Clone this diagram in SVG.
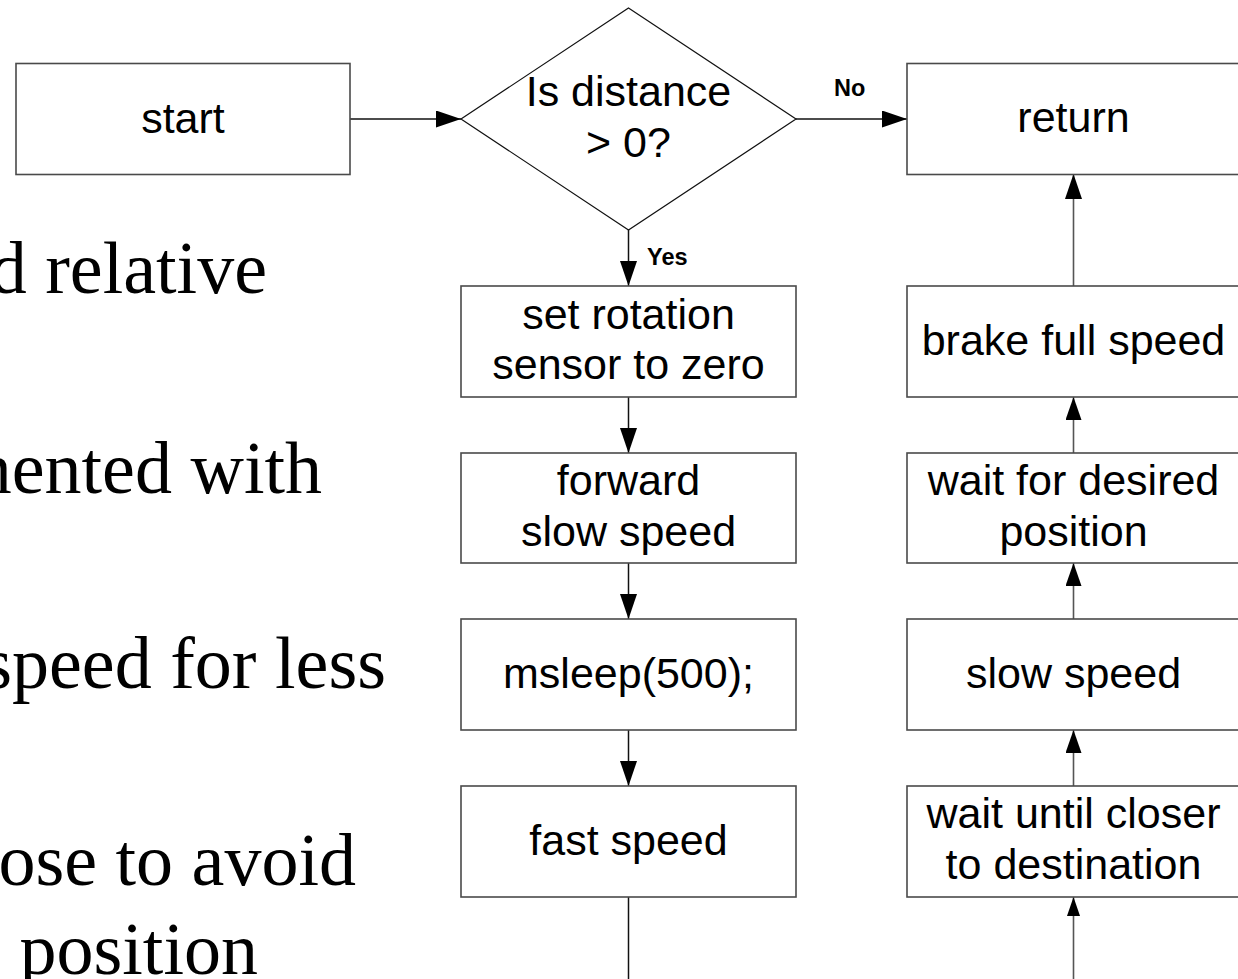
<svg xmlns="http://www.w3.org/2000/svg" width="1238" height="979" viewBox="0 0 1238 979">
  <style>
    .box { fill: #fff; stroke: #4a4a4a; stroke-width: 1.6; }
    .dia { fill: #fff; stroke: #111; stroke-width: 1.2; }
    .lbl { font-family: "Liberation Sans", Arial, sans-serif; font-size: 43px; fill: #000; text-anchor: middle; }
    .tag { font-family: "Liberation Sans", Arial, sans-serif; font-size: 23.5px; font-weight: bold; fill: #000; }
    .bullet { font-family: "Liberation Serif", "Times New Roman", serif; font-size: 74px; fill: #000; text-anchor: end; }
    .wire { fill: none; stroke: #111; stroke-width: 1.5; }
    .wire-r { fill: none; stroke: #555; stroke-width: 1.6; }
  </style>
  <defs>
    <marker id="arrow" markerUnits="userSpaceOnUse" markerWidth="25" markerHeight="17" refX="25" refY="8.5" orient="auto">
      <path d="M0,0 L25,8.5 L0,17 Z" fill="#000"/>
    </marker>
    <marker id="arrow-m" markerUnits="userSpaceOnUse" markerWidth="23" markerHeight="16" refX="23" refY="8" orient="auto">
      <path d="M0,0 L23,8 L0,16 Z" fill="#000"/>
    </marker>
    <marker id="arrow-s" markerUnits="userSpaceOnUse" markerWidth="19" markerHeight="13" refX="19" refY="6.5" orient="auto">
      <path d="M0,0 L19,6.5 L0,13 Z" fill="#000"/>
    </marker>
  </defs>

  <rect width="1238" height="979" fill="#fff"/>

  <!-- bullet text running off the left edge of the slide -->
  <g id="slide-text">
    <text class="bullet" x="267" y="293">d relative</text>
    <text class="bullet" x="322" y="493">nented with</text>
    <text class="bullet" x="386" y="688">speed for less</text>
    <text class="bullet" x="356" y="885">ose to avoid</text>
    <text class="bullet" x="258" y="974">position</text>
  </g>

  <!-- connectors -->
  <g id="connectors">
    <line class="wire" x1="350" y1="119" x2="461" y2="119" marker-end="url(#arrow)"/>
    <line class="wire" x1="796" y1="119" x2="907" y2="119" marker-end="url(#arrow)"/>
    <line class="wire" x1="628.5" y1="230" x2="628.5" y2="286" marker-end="url(#arrow)"/>
    <line class="wire" x1="628.5" y1="397" x2="628.5" y2="453" marker-end="url(#arrow)"/>
    <line class="wire" x1="628.5" y1="563" x2="628.5" y2="619" marker-end="url(#arrow)"/>
    <line class="wire" x1="628.5" y1="730" x2="628.5" y2="786" marker-end="url(#arrow)"/>
    <line class="wire" x1="628.5" y1="897" x2="628.5" y2="990"/>
    <line class="wire-r" x1="1073.5" y1="990" x2="1073.5" y2="897" marker-end="url(#arrow-s)"/>
    <line class="wire-r" x1="1073.5" y1="786" x2="1073.5" y2="730" marker-end="url(#arrow-m)"/>
    <line class="wire-r" x1="1073.5" y1="619" x2="1073.5" y2="563" marker-end="url(#arrow-m)"/>
    <line class="wire-r" x1="1073.5" y1="453" x2="1073.5" y2="397" marker-end="url(#arrow-m)"/>
    <line class="wire-r" x1="1073.5" y1="286" x2="1073.5" y2="174" marker-end="url(#arrow)"/>
    <text class="tag" x="834" y="96">No</text>
    <text class="tag" x="647" y="265">Yes</text>
  </g>

  <g id="start">
    <rect class="box" x="16" y="63.5" width="334" height="111"/>
    <text class="lbl" x="183" y="133">start</text>
  </g>

  <g id="check-distance">
    <polygon class="dia" points="628.5,8 796,119 628.5,230 461,119"/>
    <text class="lbl" x="628.5" y="106">Is distance</text>
    <text class="lbl" x="628.5" y="157">&gt; 0?</text>
  </g>

  <g id="return">
    <rect class="box" x="907" y="63.5" width="334" height="111"/>
    <text class="lbl" x="1073.5" y="132">return</text>
  </g>

  <g id="reset-sensor">
    <rect class="box" x="461" y="286" width="335" height="111"/>
    <text class="lbl" x="628.5" y="329">set rotation</text>
    <text class="lbl" x="628.5" y="379">sensor to zero</text>
  </g>

  <g id="forward-slow">
    <rect class="box" x="461" y="453" width="335" height="110"/>
    <text class="lbl" x="628.5" y="495">forward</text>
    <text class="lbl" x="628.5" y="546">slow speed</text>
  </g>

  <g id="msleep">
    <rect class="box" x="461" y="619" width="335" height="111"/>
    <text class="lbl" x="628.5" y="688">msleep(500);</text>
  </g>

  <g id="fast-speed">
    <rect class="box" x="461" y="786" width="335" height="111"/>
    <text class="lbl" x="628.5" y="855">fast speed</text>
  </g>

  <g id="brake">
    <rect class="box" x="907" y="286" width="334" height="111"/>
    <text class="lbl" x="1073.5" y="355">brake full speed</text>
  </g>

  <g id="wait-position">
    <rect class="box" x="907" y="453" width="334" height="110"/>
    <text class="lbl" x="1073.5" y="495">wait for desired</text>
    <text class="lbl" x="1073.5" y="546">position</text>
  </g>

  <g id="slow-speed">
    <rect class="box" x="907" y="619" width="334" height="111"/>
    <text class="lbl" x="1073.5" y="688">slow speed</text>
  </g>

  <g id="wait-closer">
    <rect class="box" x="907" y="786" width="334" height="111"/>
    <text class="lbl" x="1073.5" y="828">wait until closer</text>
    <text class="lbl" x="1073.5" y="879">to destination</text>
  </g>
</svg>
